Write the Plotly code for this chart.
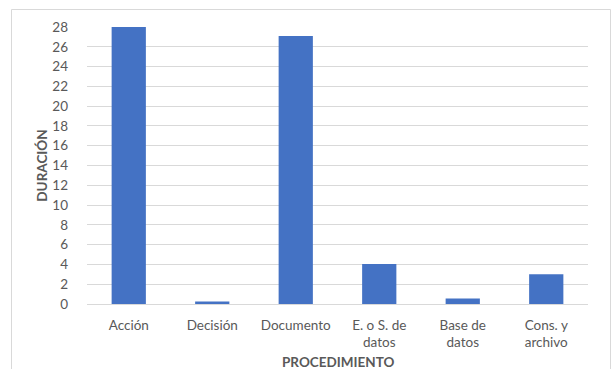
import plotly.graph_objects as go

# Duración por tipo de procedimiento
categorias = ["Acción", "Decisión", "Documento", "E. o S. de<br>datos", "Base de<br>datos", "Cons. y<br>archivo"]
duracion = [28, 0.25, 27.1, 4.05, 0.55, 3.0]
ticks_y = list(range(0, 29, 2))

W, H = 613, 369
ml, mr, mt, mb = 87, 25, 27, 65

fig = go.Figure(
    go.Bar(
        x=categorias,
        y=duracion,
        marker=dict(color="#4472C4", line=dict(width=0)),
        width=0.41,
    )
)

pw = W - ml - mr
ph = H - mt - mb

fig.update_layout(
    width=W,
    height=H,
    margin=dict(l=ml, r=mr, t=mt, b=mb, pad=0, autoexpand=False),
    paper_bgcolor="white",
    plot_bgcolor="white",
    font=dict(family="Lato, Open Sans, sans-serif", size=13, color="#595959"),
    showlegend=False,
    xaxis=dict(
        automargin=False,
        showgrid=False,
        showline=False,
        zeroline=False,
        ticklabelstandoff=11,
        tickfont=dict(size=13.5, color="#595959"),
    ),
    yaxis=dict(
        automargin=False,
        range=[0, 28],
        tickvals=ticks_y,
        showgrid=True,
        gridcolor="#d9d9d9",
        gridwidth=1,
        zeroline=True,
        zerolinecolor="#d9d9d9",
        zerolinewidth=1,
        showline=False,
        ticklabelstandoff=18,
        tickfont=dict(size=13.5, color="#595959"),
        title=dict(
            text="<b>DURACIÓN</b>",
            font=dict(size=13.5, color="#595959"),
            standoff=1,
        ),
    ),
    # x-axis title placed as a paper annotation so it can sit low in the margin
    annotations=[
        dict(
            text="<b>PROCEDIMIENTO</b>",
            xref="paper",
            yref="paper",
            x=0.5,
            y=(H - mb - 362) / ph,
            xanchor="center",
            yanchor="middle",
            showarrow=False,
            font=dict(size=13.5, color="#595959"),
        )
    ],
    shapes=[
        dict(
            type="rect",
            xref="paper",
            yref="paper",
            x0=(11.5 - ml) / pw,
            x1=(610.5 - ml) / pw,
            y0=(H - mb - 380) / ph,
            y1=(H - mb - 9.5) / ph,
            line=dict(color="#d9d9d9", width=1),
            fillcolor="rgba(0,0,0,0)",
            layer="below",
        )
    ],
)

fig.write_html("out.html")
